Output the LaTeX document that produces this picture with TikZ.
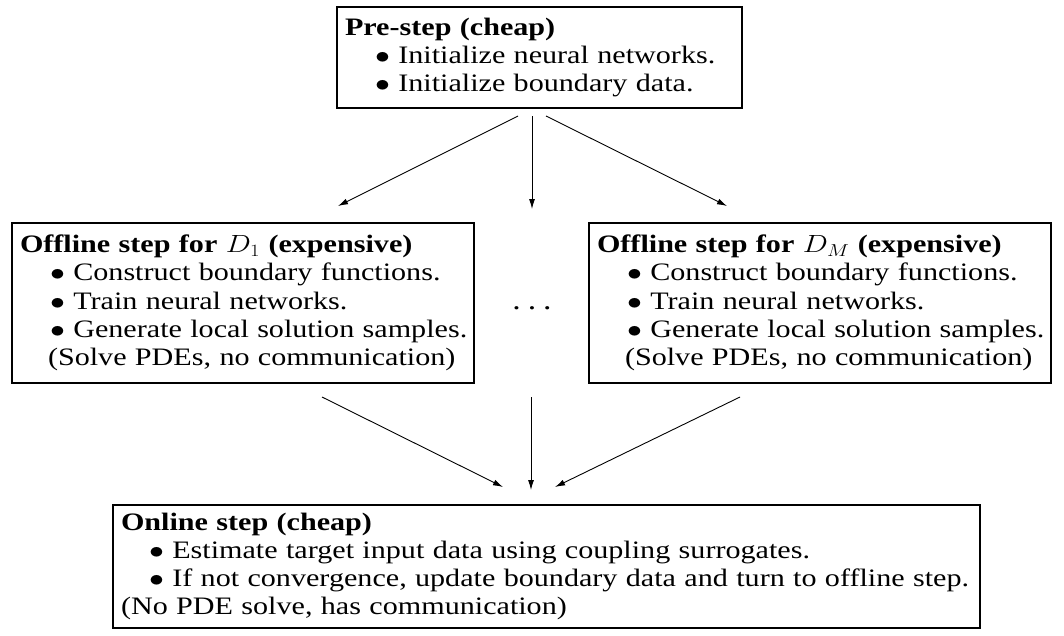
\documentclass[tikz,border=0pt]{standalone}
\usepackage{fontspec}
\setmainfont{Liberation Serif}[FakeStretch=1.2]
\usepackage{graphicx}
\usetikzlibrary{arrows.meta,calc}
\newcommand{\bul}{\scalebox{1.2}[1]{$\bullet$}}
\newcommand{\mth}[1]{\scalebox{1.2}[1]{$#1$}}
\begin{document}
\begin{tikzpicture}[x=1pt,y=-1pt,
  box/.style={draw,line width=1.3pt,inner xsep=8pt,inner ysep=0pt,align=left,
    font=\fontsize{25.1}{28.2}\selectfont},
  arr/.style={-{Latex[length=10pt,width=6pt]},line width=0.9pt}]
\useasboundingbox (0,0) rectangle (1064,635);
\node[box,minimum width=405pt,minimum height=101pt,text width=389pt] (pre) at (539.5,57.5)
  {\mbox{\textbf{Pre-step (cheap)}}\\
   \hspace*{30pt}\mbox{\bul\ Initialize neural networks.}\\
   \hspace*{30pt}\mbox{\bul\ Initialize boundary data.}};
\node[box,minimum width=462pt,minimum height=160pt,text width=446pt] (off1) at (243,303)
  {\mbox{\textbf{Offline step for \mth{D_1} (expensive)}}\\
   \hspace*{30pt}\mbox{\bul\ Construct boundary functions.}\\
   \hspace*{30pt}\mbox{\bul\ Train neural networks.}\\
   \hspace*{30pt}\mbox{\bul\ Generate local solution samples.}\\
   \hspace*{28pt}\mbox{(Solve PDEs, no communication)}};
\node[box,minimum width=462pt,minimum height=160pt,text width=446pt] (offM) at (820,303)
  {\mbox{\textbf{Offline step for \mth{D_M} (expensive)}}\\
   \hspace*{30pt}\mbox{\bul\ Construct boundary functions.}\\
   \hspace*{30pt}\mbox{\bul\ Train neural networks.}\\
   \hspace*{30pt}\mbox{\bul\ Generate local solution samples.}\\
   \hspace*{28pt}\mbox{(Solve PDEs, no communication)}};
\node[box,minimum width=867pt,minimum height=123pt,text width=851pt] (on) at (546.5,566.5)
  {\mbox{\textbf{Online step (cheap)}}\\
   \hspace*{28pt}\mbox{\bul\ Estimate target input data using coupling surrogates.}\\
   \hspace*{28pt}\mbox{\bul\ If not convergence, update boundary data and turn to offline step.}\\
   \mbox{(No PDE solve, has communication)}};
\node[inner sep=0pt,font=\fontsize{28}{28}\selectfont] (dots) at (532,308) {.\kern7pt.\kern7pt.};
% connector end points
\coordinate (a1s) at (518,116); \coordinate (a1e) at (338,206);
\coordinate (a2s) at (532,116); \coordinate (a2e) at (532,209);
\coordinate (a3s) at (546,116); \coordinate (a3e) at (727,206);
\coordinate (b1s) at (322,397); \coordinate (b1e) at (503,487);
\coordinate (b2s) at (531,397); \coordinate (b2e) at (531,490);
\coordinate (b3s) at (740,397); \coordinate (b3e) at (555,487);
\draw[arr] (a1s) -- (a1e);
\draw[arr] (a2s) -- (a2e);
\draw[arr] (a3s) -- (a3e);
\draw[arr] (b1s) -- (b1e);
\draw[arr] (b2s) -- (b2e);
\draw[arr] (b3s) -- (b3e);
\end{tikzpicture}
\end{document}
